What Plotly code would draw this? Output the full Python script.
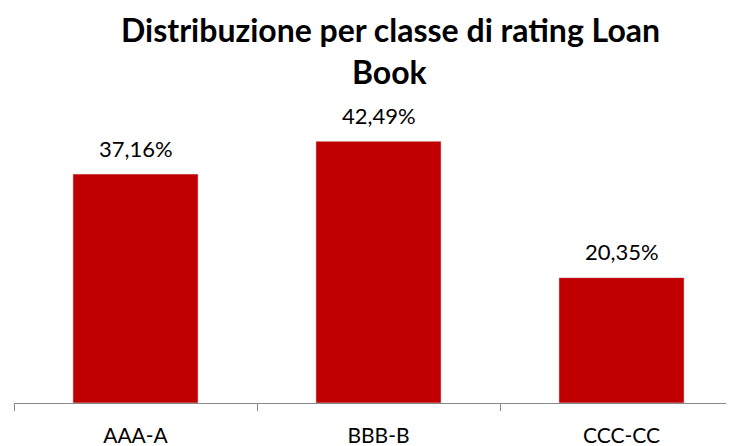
import plotly.graph_objects as go

categories = ["AAA-A", "BBB-B", "CCC-CC"]
values = [37.16, 42.49, 20.35]
labels = [f"{v:.2f}%".replace(".", ",") for v in values]

# page has an 8px body margin; compensate so the chart lands where the reference has it
OFF = 8
W, H = 734, 446
plot_left, plot_right, plot_top, plot_bottom = 14, 734, 90, 403
ml = plot_left - OFF
mt = plot_top - OFF
plot_w = plot_right - plot_left
plot_h = plot_bottom - plot_top
mr = W - ml - plot_w
mb = H - mt - plot_h

px_per_unit = 6.16
ymax = plot_h / px_per_unit
cat_px = 243.0
xmax = -0.5 + plot_w / cat_px

fig = go.Figure(go.Bar(
    x=categories, y=values, marker_color="#C00000", width=0.515,
    hoverinfo="skip",
))

font = "Lato, Carlito, Calibri, sans-serif"
for c, v, t in zip(categories, values, labels):
    fig.add_annotation(x=c, y=v, text=t, showarrow=False, yanchor="middle",
                       yshift=26, font=dict(family=font, size=22, color="#000000"))

def paper_y(page_y):
    return (plot_bottom - page_y) / plot_h

title_x = (390 - plot_left) / plot_w
fig.add_annotation(xref="paper", yref="paper", x=title_x, y=paper_y(29),
                   text="<b>Distribuzione per classe di rating Loan</b>", showarrow=False,
                   yanchor="middle", font=dict(family=font, size=32, color="#000000"))
fig.add_annotation(xref="paper", yref="paper", x=title_x, y=paper_y(71),
                   text="<b>Book</b>", showarrow=False,
                   yanchor="middle", font=dict(family=font, size=32, color="#000000"))

fig.update_layout(
    width=W, height=H,
    margin=dict(l=ml, r=mr, t=mt, b=mb, pad=0),
    paper_bgcolor="white", plot_bgcolor="white",
    showlegend=False,
    xaxis=dict(type="category", range=[-0.5, xmax], showline=True, linecolor="#898989",
               linewidth=1, ticks="outside", tickson="boundaries", ticklen=7,
               tickcolor="#898989", showgrid=False, zeroline=False,
               ticklabelstandoff=14,
               tickfont=dict(family=font, size=21, color="#000000")),
    yaxis=dict(range=[0, ymax], visible=False, showgrid=False, zeroline=False),
)

fig.write_html("out.html")
